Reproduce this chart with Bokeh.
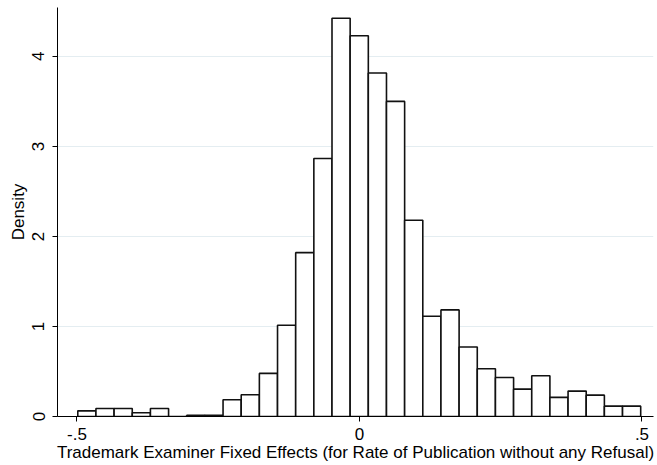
import numpy as np
from bokeh.plotting import figure
from bokeh.models import FixedTicker, ColumnDataSource
from bokeh.embed import file_html
from bokeh.resources import INLINE

# Histogram data
bin_start = -0.4986
bin_width = 0.03214
densities = [0.063, 0.089, 0.089, 0.041, 0.089, 0.0, 0.012, 0.012,
             0.186, 0.241, 0.479, 1.013, 1.82, 2.865, 4.424, 4.23,
             3.816, 3.50, 2.18, 1.113, 1.184, 0.772, 0.531, 0.434,
             0.304, 0.453, 0.212, 0.282, 0.237, 0.115, 0.115]
x_ticks = [-0.5, 0, 0.5]
x_tick_labels = ["-.5", "0", ".5"]
y_ticks = [0, 1, 2, 3, 4]
x_title = "Trademark Examiner Fixed Effects (for Rate of Publication without any Refusal)"
y_title = "Density"

edges = bin_start + bin_width * np.arange(len(densities) + 1)
src = ColumnDataSource(dict(left=edges[:-1], right=edges[1:],
                            top=densities, bottom=[0] * len(densities)))

FONT = "Liberation Sans"
p = figure(width=657, height=465, output_backend="svg", toolbar_location=None,
           x_range=(-0.5345, 0.5204), y_range=(0, 4.543),
           min_border_left=57, min_border_right=4, min_border_top=7,
           min_border_bottom=49)
p.outline_line_color = None
p.background_fill_color = "white"
p.border_fill_color = "white"

p.quad(left="left", right="right", top="top", bottom="bottom", source=src,
       fill_color="white", line_color="#111111", line_width=1.6)

# grid
p.xgrid.visible = False
p.ygrid.ticker = FixedTicker(ticks=[1, 2, 3, 4])
p.ygrid.grid_line_color = "#e4edf1"
p.ygrid.grid_line_width = 1

# x axis
xa = p.xaxis[0]
xa.ticker = FixedTicker(ticks=x_ticks)
xa.major_label_overrides = {t: l for t, l in zip(x_ticks, x_tick_labels)}
xa.axis_label = x_title
for ax in (p.xaxis[0], p.yaxis[0]):
    ax.axis_line_color = "black"
    ax.axis_line_width = 1
    ax.major_tick_line_color = "black"
    ax.major_tick_out = 5
    ax.major_tick_in = 0
    ax.minor_tick_line_color = None
    ax.major_label_text_font = FONT
    ax.major_label_text_font_size = "17px"
    ax.major_label_text_color = "black"
    ax.axis_label_text_font = FONT
    ax.axis_label_text_font_size = "17px"
    ax.axis_label_text_font_style = "normal"
    ax.axis_label_text_color = "black"
xa.major_label_standoff = 6
xa.axis_label_standoff = 0

ya = p.yaxis[0]
ya.ticker = FixedTicker(ticks=y_ticks)
ya.axis_label = y_title
ya.major_label_orientation = "vertical"
ya.major_label_standoff = 8
ya.axis_label_standoff = 2

open("out.html", "w").write(file_html(p, INLINE))
